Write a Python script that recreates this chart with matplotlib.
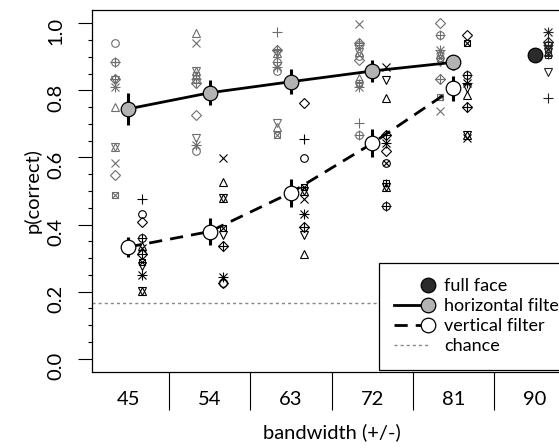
import matplotlib
matplotlib.use("Agg")
import matplotlib.pyplot as plt
from matplotlib.lines import Line2D
from matplotlib.legend_handler import HandlerBase
import numpy as np

plt.rcParams['font.family'] = ['Lato', 'DejaVu Sans']
plt.rcParams['font.weight'] = 'normal'
plt.rcParams['lines.scale_dashes'] = False

# ---------------- data ----------------
categories = ["45", "54", "63", "72", "81", "90"]
xlabel = "bandwidth (+/-)"
ylabel = "p(correct)"

horiz_mean = [0.745, 0.793, 0.826, 0.858, 0.884]
horiz_err = [0.048, 0.037, 0.037, 0.032, 0.022]
vert_mean = [0.333, 0.379, 0.495, 0.642, 0.806]
vert_err = [0.030, 0.040, 0.042, 0.042, 0.037]
full_mean = [0.906]
full_err = [0.010]
chance = 1 / 6

# individual subjects: symbols and values per category
horiz_sym = [
    ['o', '+', 'circp', 'diap', 'itri', 'ast', 'tri', 'star', 'x', 'dia', 'sqx'],
    ['tri', 'x', 'star', 'sqp', 'circp', 'diap', 'dia', 'itri', 'ast', 'o'],
    ['+', 'diap', 'star', 'circp', 'ast', 'o', 'itri', 'tri', 'sqx'],
    ['x', 'diap', 'circp', 'star', 'o', 'dia', 'tri', 'sqp', 'ast', '+', 'circp'],
    ['dia', 'circp', 'ast', 'star', 'sqx', 'itri', 'diap', 'sqtri', 'x'],
]
horiz_val = [
    [0.942, 0.886, 0.886, 0.834, 0.831, 0.809, 0.752, 0.632, 0.583, 0.548, 0.489],
    [0.970, 0.942, 0.859, 0.845, 0.834, 0.823, 0.727, 0.657, 0.636, 0.620],
    [0.975, 0.920, 0.911, 0.886, 0.871, 0.859, 0.704, 0.690, 0.667],
    [0.998, 0.942, 0.935, 0.915, 0.903, 0.891, 0.836, 0.823, 0.809, 0.704, 0.667],
    [1.000, 0.965, 0.920, 0.908, 0.896, 0.886, 0.833, 0.780, 0.740],
]
vert_sym = [
    ['+', 'o', 'dia', 'circp', 'tri', 'x', 'diap', 'sqx', 'itri', 'ast', 'star'],
    ['x', 'tri', 'star', 'sqx', 'itri', 'diap', 'ast', 'o', 'dia'],
    ['dia', '+', 'o', 'sqx', 'star', 'x', 'ast', 'diap', 'itri', 'tri'],
    ['x', 'itri', 'tri', 'diap', 'ast', 'dia', 'circx', 'sqp', 'star', 'circp'],
    ['dia', 'sqx', 'circp', 'ast', 'itri', 'tri', 'diap', 'star', 'x'],
]
vert_val = [
    [0.476, 0.432, 0.409, 0.359, 0.335, 0.330, 0.313, 0.287, 0.275, 0.250, 0.203],
    [0.598, 0.528, 0.479, 0.389, 0.370, 0.335, 0.243, 0.227, 0.227],
    [0.762, 0.654, 0.598, 0.513, 0.500, 0.476, 0.431, 0.392, 0.369, 0.313],
    [0.871, 0.831, 0.777, 0.667, 0.642, 0.620, 0.585, 0.525, 0.512, 0.454],
    [0.965, 0.942, 0.846, 0.823, 0.808, 0.786, 0.750, 0.667, 0.657],
]
full_sym = [['ast', 'diap', 'circp', 'sqx', 'star', 'sqp', 'itri', '+']]
full_val = [[0.975, 0.945, 0.935, 0.925, 0.915, 0.905, 0.856, 0.777]]

legend_labels = ["full face", "horizontal filter", "vertical filter", "chance"]

# ---------------- style ----------------
GRAY_PTS = '#6e6e6e'
GRAY_FILL = '#b3b3b3'
DARK_FILL = '#2b2b2b'

SYMBOLS = {
    'o': [('o', 5.5)], 'tri': [('^', 6)], '+': [('+', 7)], 'x': [('x', 5.5)],
    'dia': [('D', 5)], 'itri': [('v', 6)], 'sqx': [('s', 5), ('x', 4.5)],
    'ast': [('+', 7), ('x', 5.5)], 'diap': [('D', 5.5), ('+', 6.5)],
    'circp': [('o', 5.5), ('+', 6.5)], 'star': [('^', 6), ('v', 6)],
    'sqp': [('s', 5), ('+', 5.5)], 'circx': [('o', 5.5), ('x', 4.5)],
    'sqtri': [('s', 5), ('^', 4.5)],
}

fig = plt.figure(figsize=(5.59, 4.48), dpi=100)
ax = fig.add_axes([92.3 / 559, 1 - 372 / 448, (570.8 - 92.3) / 559, 362 / 448])
ax.set_xlim(0.557, 6.443)
ax.set_ylim(-0.04, 1.04)

xpos = np.arange(1, len(categories) + 1)


def draw_points(syms, vals, xs, offset, color):
    for sl, vl, xc in zip(syms, vals, xs):
        for s, v in zip(sl, vl):
            for m, ms in SYMBOLS[s]:
                ax.plot([xc + offset], [v], marker=m, ms=ms, mfc='none',
                        mec=color, mew=0.8, ls='none', zorder=2)


draw_points(horiz_sym, horiz_val, xpos[:5], -0.165, GRAY_PTS)
draw_points(vert_sym, vert_val, xpos[:5], 0.165, 'black')
draw_points(full_sym, full_val, xpos[5:], 0.165, '#222222')

ax.axhline(chance, color='#888888', lw=1.0, dashes=(2.2, 2.2), zorder=1)

ax.errorbar(xpos[:5], horiz_mean, yerr=horiz_err, fmt='none', ecolor='black',
            elinewidth=2.2, capsize=0, zorder=3)
ax.errorbar(xpos[:5], vert_mean, yerr=vert_err, fmt='none', ecolor='black',
            elinewidth=2.2, capsize=0, zorder=3)
ax.errorbar(xpos[5:], full_mean, yerr=full_err, fmt='none', ecolor='black',
            elinewidth=2.2, capsize=0, zorder=3)

l_h, = ax.plot(xpos[:5], horiz_mean, color='black', lw=2, ls='-', marker='o',
               ms=10.5, mfc=GRAY_FILL, mec='black', mew=0.9, zorder=4)
l_v, = ax.plot(xpos[:5], vert_mean, color='black', lw=2, dashes=(9.5, 5.8),
               marker='o', ms=10.5, mfc='white', mec='black', mew=0.9, zorder=4)
l_f, = ax.plot(xpos[5:], full_mean, color='black', lw=2, ls='none', marker='o',
               ms=10.5, mfc=DARK_FILL, mec='black', mew=0.9, zorder=4)
l_c = Line2D([], [], color='#888888', lw=1.0, dashes=(2.2, 2.2))


class RightMarkerHandler(HandlerBase):
    def create_artists(self, legend, orig_handle, xdescent, ydescent,
                       width, height, fontsize, trans):
        y = height / 2 - ydescent
        arts = []
        if orig_handle.get_linestyle() not in ('None', 'none', ''):
            ln = Line2D([-xdescent, width - xdescent], [y, y])
            ln.update_from(orig_handle)
            ln.set_marker('None')
            ln.set_transform(trans)
            arts.append(ln)
        if orig_handle.get_marker() not in ('None', 'none', None, ''):
            mk = Line2D([width - xdescent], [y])
            mk.update_from(orig_handle)
            mk.set_linestyle('None')
            mk.set_transform(trans)
            arts.append(mk)
        return arts


handler = RightMarkerHandler()
leg = ax.legend([l_f, l_h, l_v, l_c], legend_labels,
                handler_map={Line2D: handler},
                loc='upper left', bbox_to_anchor=(379 / 559, 1 - 263 / 448),
                bbox_transform=fig.transFigure, borderaxespad=0,
                fontsize=13, frameon=True, fancybox=False, framealpha=1,
                edgecolor='black', handlelength=1.85, handletextpad=0.9,
                borderpad=0.85, labelspacing=0.22)
leg.get_frame().set_linewidth(0.9)
leg.set_zorder(10)

# axes styling
for side in ['left', 'top', 'bottom', 'right']:
    ax.spines[side].set_linewidth(0.9)
ax.set_yticks([0, 0.2, 0.4, 0.6, 0.8, 1.0])
ax.set_yticklabels(['0.0', '0.2', '0.4', '0.6', '0.8', '1.0'])
ax.set_yticks(np.arange(0.05, 1.0, 0.05)[[i for i in range(19) if (i + 1) % 4 != 0]], minor=True)
ax.tick_params(axis='y', which='major', length=10, width=0.8, labelsize=14.5,
               labelrotation=90, pad=10)
ax.tick_params(axis='y', which='minor', length=3, width=0.8)

ax.set_xticks(xpos)
ax.set_xticklabels(categories)
ax.set_xticks(xpos[:-1] + 0.5, minor=True)
ax.tick_params(axis='x', which='major', length=0, labelsize=14.5, pad=14)
ax.tick_params(axis='x', which='minor', length=27, width=0.8)

ax.set_xlabel(xlabel, fontsize=14.5)
ax.set_ylabel(ylabel, fontsize=14.5)
ax.xaxis.set_label_coords(0.5, -(423 - 372) / 362)
ax.yaxis.set_label_coords(-(92.3 - 42) / 478.5, 0.5)

fig.savefig("out.png", dpi=100)
